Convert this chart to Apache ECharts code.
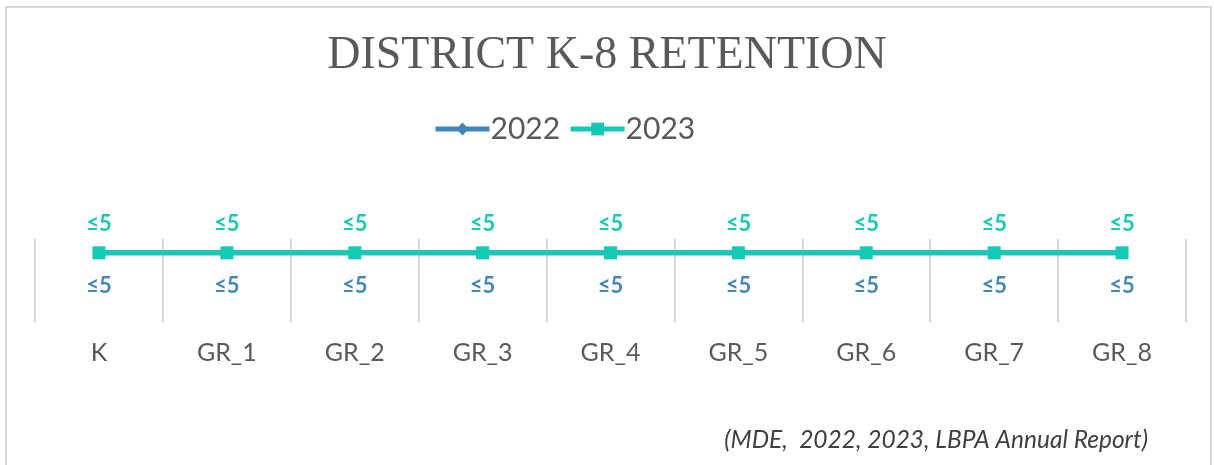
<!DOCTYPE html>
<html>
<head>
<meta charset="utf-8">
<script src="https://cdn.jsdelivr.net/npm/echarts@6/dist/echarts.min.js"></script>
<style>
  html, body { margin: 0; padding: 0; background: #fff; }
  #chart { width: 1214px; height: 465px; }
</style>
</head>
<body>
<div id="chart"></div>
<script>
const categories = ['K', 'GR_1', 'GR_2', 'GR_3', 'GR_4', 'GR_5', 'GR_6', 'GR_7', 'GR_8'];
// values are suppressed in the report (shown as "≤5")
const values2022 = [5, 5, 5, 5, 5, 5, 5, 5, 5];
const values2023 = [5, 5, 5, 5, 5, 5, 5, 5, 5];
const seriesNames = ['2022', '2023'];

const blue = '#4387b8';
const teal = '#14c9b6';
const sansFont = 'Lato, "Open Sans", sans-serif';

const chart = echarts.init(document.getElementById('chart'));

const option = {
  animation: false,
  title: {
    text: 'DISTRICT K-8 RETENTION',
    left: 'center',
    top: 28,
    textStyle: {
      fontFamily: '"Liberation Serif", "DejaVu Serif", serif',
      fontSize: 46,
      fontWeight: 'normal',
      color: '#595959'
    }
  },
  legend: {
    data: seriesNames,
    top: 109,
    left: 428,
    itemWidth: 54,
    itemHeight: 16,
    itemGap: 8,
    lineStyle: { width: 5 },
    textStyle: {
      fontFamily: sansFont,
      fontSize: 30,
      color: '#595959',
      padding: [0, 0, 0, -4]
    }
  },
  grid: {
    left: 35,
    right: 28,
    top: 239,
    bottom: 143
  },
  xAxis: {
    type: 'category',
    data: categories,
    boundaryGap: true,
    axisLine: { show: false },
    axisTick: { show: false },
    splitLine: {
      show: true,
      lineStyle: { color: '#d9d9d9', width: 2 }
    },
    axisLabel: {
      margin: 18,
      fontFamily: sansFont,
      fontSize: 25,
      color: '#595959'
    }
  },
  yAxis: {
    type: 'value',
    min: 0,
    max: 6,
    show: false,
    splitLine: { show: false }
  },
  series: [
    {
      name: seriesNames[0],
      type: 'line',
      data: values2022,
      symbol: 'diamond',
      symbolSize: 10,
      lineStyle: { color: blue, width: 5 },
      itemStyle: { color: blue },
      label: {
        show: true,
        position: 'bottom',
        distance: 17,
        formatter: '≤{c}',
        fontFamily: sansFont,
        fontSize: 22,
        fontWeight: 'bold',
        color: blue
      }
    },
    {
      name: seriesNames[1],
      type: 'line',
      data: values2023,
      symbol: 'rect',
      symbolSize: 13,
      lineStyle: { color: teal, width: 5 },
      itemStyle: { color: teal, borderRadius: 2 },
      label: {
        show: true,
        position: 'top',
        distance: 11,
        formatter: '≤{c}',
        fontFamily: sansFont,
        fontSize: 22,
        fontWeight: 'bold',
        color: teal
      }
    }
  ],
  graphic: [
    {
      type: 'rect',
      shape: { x: 6, y: 7, width: 1205, height: 480 },
      style: { fill: 'none', stroke: '#d9d9d9', lineWidth: 2 },
      silent: true
    },
    {
      type: 'text',
      right: 66,
      top: 428,
      style: {
        text: '(MDE,  2022, 2023, LBPA Annual Report)',
        fontFamily: sansFont,
        fontSize: 24.5,
        fontStyle: 'italic',
        fill: '#404040'
      }
    }
  ]
};

chart.setOption(option);
</script>
</body>
</html>
